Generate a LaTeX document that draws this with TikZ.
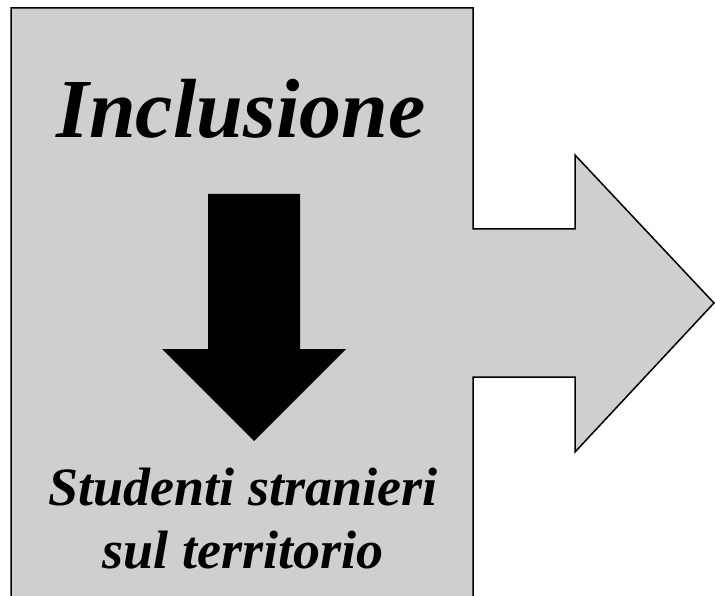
\documentclass[tikz,border=0pt]{standalone}
\usepackage{fontspec}
\setmainfont{Liberation Serif}
\definecolor{panelgrey}{RGB}{208,206,208}

\begin{document}
\begin{tikzpicture}[x=1pt,y=-1pt]
		\useasboundingbox (0,0) rectangle (715,596);
		% box and big arrow to the right
		\filldraw[fill=panelgrey,draw=black,line width=1.5pt,line join=miter]
			(11,600) -- (11,8) -- (473,8) -- (473,229) -- (575,229) -- (575,155)
			-- (714,303) -- (575,452) -- (575,377) -- (473,377) -- (473,600);
		% black arrow down
		\fill[black] (208,194) -- (300,194) -- (300,349) -- (346,349)
			-- (254,441) -- (162,349) -- (208,349) -- cycle;
		\node[font=\fontsize{84}{90}\selectfont\bfseries\itshape,anchor=base] (title) at (241,138){Inclusione};
		\node[font=\fontsize{54}{60}\selectfont\bfseries\itshape,anchor=base] (sub1) at (243,505){Studenti stranieri};
		\node[font=\fontsize{54}{60}\selectfont\bfseries\itshape,anchor=base] (sub2) at (243,568){sul territorio};
	\end{tikzpicture}
\end{document}
